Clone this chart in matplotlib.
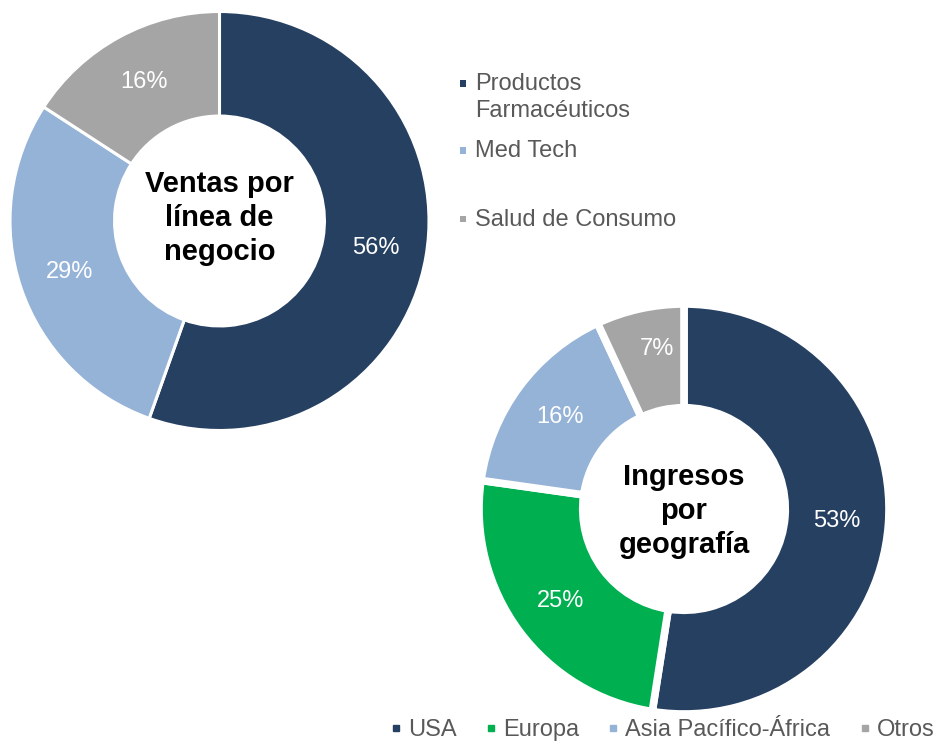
import matplotlib
matplotlib.use('Agg')
import matplotlib.pyplot as plt
from matplotlib.lines import Line2D
from matplotlib.patches import Rectangle

plt.rcParams['font.family'] = ['Liberation Sans', 'DejaVu Sans']

# data
negocio_labels = ['Productos\nFarmacéuticos', 'Med Tech', 'Salud de Consumo']
negocio_values = [56, 29, 16]
geo_labels = ['USA', 'Europa', 'Asia Pacífico-África', 'Otros']
geo_values = [53, 25, 16, 7]

navy = '#264061'
light_blue = '#95B3D7'
grey = '#A5A5A5'
green = '#00B050'
text_grey = '#595959'
negocio_colors = [navy, light_blue, grey]
geo_colors = [navy, green, light_blue, grey]

W, H = 938, 741
fig = plt.figure(figsize=(W / 100, H / 100), dpi=100)


def px(x, y):
    # pixel (from top-left) -> figure fraction
    return x / W, 1 - y / H


def donut(cx, cy, r, values, colors, hole, lw, pctdist, title, title_dy):
    ax = fig.add_axes([(cx - r) / W, 1 - (cy + r) / H, 2 * r / W, 2 * r / H])
    vals = iter(values)
    wedges, texts, autotexts = ax.pie(
        values, colors=colors, startangle=90, counterclock=False,
        autopct=lambda p: f'{next(vals)}%', pctdistance=pctdist,
        wedgeprops=dict(width=1 - hole, edgecolor='white', linewidth=lw),
        textprops=dict(color='white', fontsize=17))
    ax.set_xlim(-1, 1)
    ax.set_ylim(-1, 1)
    ax.text(0, title_dy, title, ha='center', va='center', fontsize=21,
            fontweight='bold', color='black', linespacing=1.27)
    return ax, autotexts


donut(219.5, 221, 209.5, negocio_values, negocio_colors, 0.501, 2.2, 0.755,
      'Ventas por\nlínea de\nnegocio', 0.015)
ax2, at2 = donut(684, 509, 205, geo_values, geo_colors, 0.494, 5.5, 0.75,
                 'Ingresos\npor\ngeografía', -0.01)
# small slice label sits a little further out, as in the original
x7, y7 = at2[-1].get_position()
at2[-1].set_position((x7 + 0.03, y7 + 0.05))

# legend for "Ventas por línea de negocio"
first_baselines = [90, 157, 225.5]
for label, color, base in zip(negocio_labels, negocio_colors, first_baselines):
    sq = 6.6
    x0, y0 = px(459.5, base - 6.5 + sq / 2)
    fig.add_artist(Rectangle((x0, y0), sq / W, sq / H, transform=fig.transFigure,
                             facecolor=color, edgecolor='none'))
    for i, line in enumerate(label.split('\n')):
        fig.text(*px(475, base + i * 27), line, fontsize=17, color=text_grey,
                 va='baseline', ha='left')

# legend for "Ingresos por geografía"
handles = [Line2D([], [], marker='s', linestyle='none', color=c, markersize=5)
           for c in geo_colors]
fig.legend(handles, geo_labels, ncol=4, loc='center left',
           bbox_to_anchor=px(389, 730), frameon=False, fontsize=17,
           labelcolor=text_grey, handlelength=0.6, handletextpad=0.2,
           columnspacing=1.16, borderpad=0, borderaxespad=0)

fig.savefig('out.png', dpi=100)
